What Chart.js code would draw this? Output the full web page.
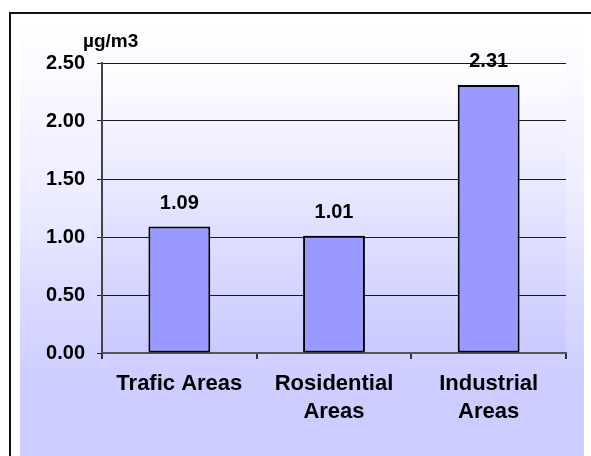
<!doctype html>
<html lang="en">
  <head>
    <meta charset="UTF-8" />
    <title>Concentration by area</title>
    <script src="https://cdn.jsdelivr.net/npm/chart.js"></script>
    <style>
      html,
      body {
        margin: 0;
        padding: 0;
        width: 591px;
        height: 456px;
        overflow: hidden;
        background: #ffffff;
        font-family: "Liberation Sans", Arial, sans-serif;
      }

      /* black frame, only top and left edges fall inside the page */
      .frame {
        position: absolute;
        left: 9px;
        top: 12px;
        width: 600px;
        height: 460px;
        border-left: 2px solid #111;
        border-top: 2px solid #111;
      }

      .chart-bg {
        position: absolute;
        left: 20px;
        top: 23px;
        width: 564px;
        height: 440px;
        background: linear-gradient(to bottom, #ffffff 0px, #ececff 180px, #d9d9ff 280px, #ccccff 370px, #ccccff 440px);
      }

      .chart-container {
        position: absolute;
        left: 0;
        top: 0;
        width: 591px;
        height: 456px;
      }
    </style>
  </head>
  <body>
    <div class="frame"></div>
    <div class="chart-bg"></div>
    <div class="chart-container">
      <canvas id="areaChart"></canvas>
    </div>

    <script>
      const categories = [["Trafic Areas"], ["Rosidential", "Areas"], ["Industrial", "Areas"]];
      const concentrations = [1.09, 1.01, 2.31];
      const yTickLabels = ["0.00", "0.50", "1.00", "1.50", "2.00", "2.50"];
      const unitLabel = "µg/m3";

      const fontFamily = "'Liberation Sans', Arial, sans-serif";

      // gradient fill behind the plot area
      const plotBackground = {
        id: "plotBackground",
        beforeDraw(chart) {
          const { ctx, chartArea } = chart;
          const grad = ctx.createLinearGradient(0, chartArea.top, 0, chartArea.bottom);
          grad.addColorStop(0, "#ffffff");
          grad.addColorStop(1, "#c9c9ff");
          ctx.save();
          ctx.fillStyle = grad;
          ctx.fillRect(chartArea.left, chartArea.top, chartArea.right - chartArea.left, chartArea.bottom - chartArea.top);
          ctx.restore();
        }
      };

      // value above each bar and the unit over the y axis
      const barLabels = {
        id: "barLabels",
        afterDatasetsDraw(chart) {
          const { ctx, chartArea } = chart;
          const meta = chart.getDatasetMeta(0);
          ctx.save();
          ctx.fillStyle = "#000";
          ctx.font = "bold 20px " + fontFamily;
          ctx.textAlign = "center";
          ctx.textBaseline = "alphabetic";
          meta.data.forEach((bar, i) => {
            ctx.fillText(concentrations[i].toFixed(2), bar.x, bar.y - 18);
          });
          ctx.font = "bold 19px " + fontFamily;
          ctx.textAlign = "left";
          ctx.fillText(unitLabel, chartArea.left - 19, chartArea.top - 16);
          ctx.restore();
        }
      };

      const ctx = document.getElementById("areaChart").getContext("2d");
      const areaChart = new Chart(ctx, {
        type: "bar",
        data: {
          labels: categories,
          datasets: [
            {
              data: concentrations,
              backgroundColor: "#9999ff",
              borderColor: "#000",
              borderWidth: 2,
              borderSkipped: false,
              barPercentage: 0.4,
              categoryPercentage: 1
            }
          ]
        },
        options: {
          responsive: true,
          maintainAspectRatio: false,
          animation: false,
          layout: {
            padding: { left: 0, top: 63, right: 25, bottom: 0 }
          },
          plugins: {
            legend: { display: false },
            tooltip: { enabled: false }
          },
          scales: {
            x: {
              offset: true,
              afterFit(scale) {
                scale.height = 103;
              },
              grid: {
                offset: true,
                drawOnChartArea: false,
                drawTicks: true,
                tickLength: 6,
                color: "#333",
                lineWidth: 2
              },
              border: { color: "#555", width: 2 },
              ticks: {
                color: "#000",
                padding: 11,
                maxRotation: 0,
                font: { family: fontFamily, size: 22, weight: "bold", lineHeight: 1.27 }
              }
            },
            y: {
              min: 0,
              max: 2.5,
              afterFit(scale) {
                scale.width = 102;
              },
              grid: {
                color: "#1a1a1a",
                lineWidth: 1,
                tickLength: 5
              },
              border: { color: "#444", width: 2 },
              ticks: {
                stepSize: 0.5,
                color: "#000",
                padding: 12,
                font: { family: fontFamily, size: 20, weight: "bold" },
                callback: (value, index) => yTickLabels[index]
              }
            }
          }
        },
        plugins: [plotBackground, barLabels]
      });
    </script>
  </body>
</html>
